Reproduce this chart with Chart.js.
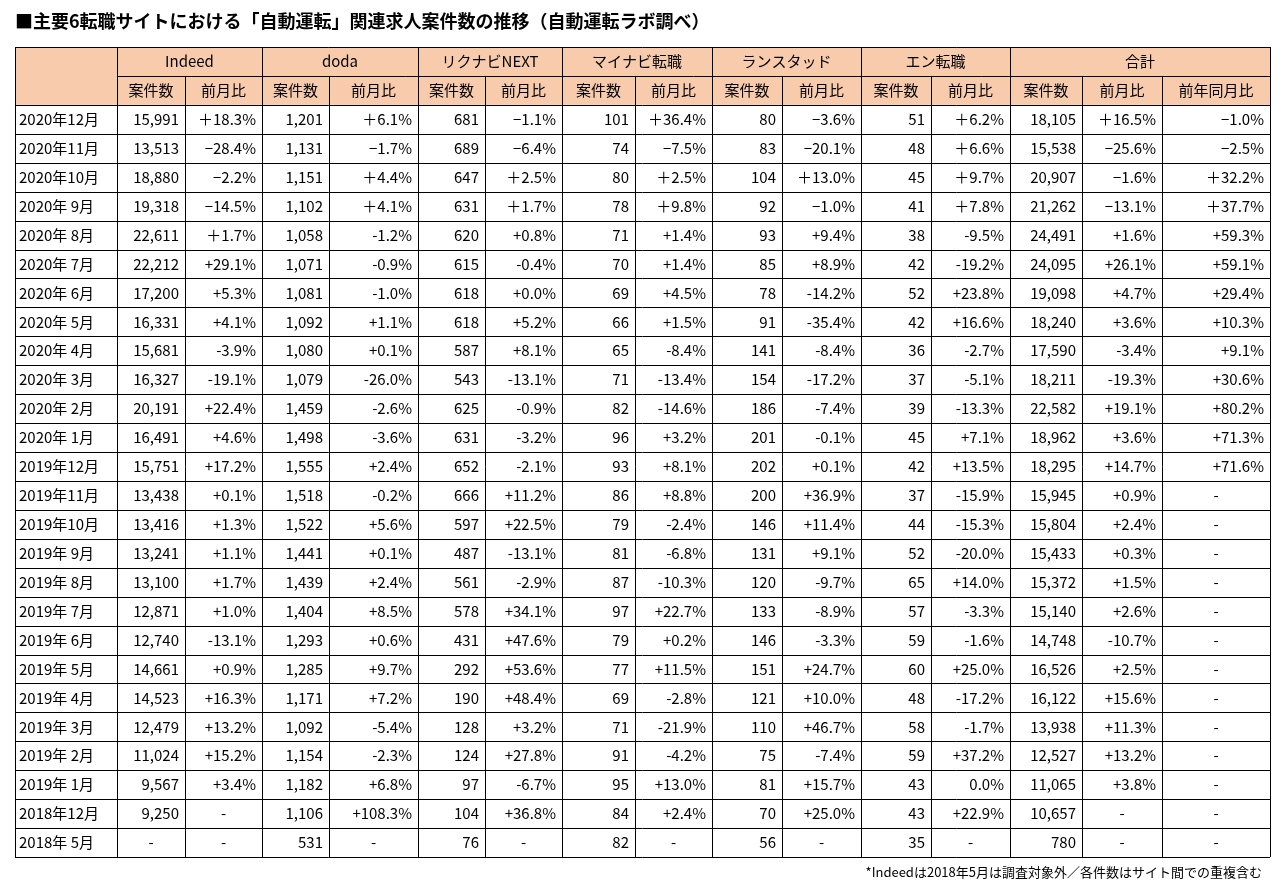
<!DOCTYPE html>
<html>
<head>
<meta charset="utf-8">
<script src="https://cdn.jsdelivr.net/npm/chart.js@4"></script>
<style>
  body { margin: 0; background: #fff; }
  #wrap { position: relative; width: 1280px; height: 888px; }
</style>
</head>
<body>
<div id="wrap"><canvas id="tableChart" width="1280" height="888"></canvas></div>
<script>
// データ
const title = '■主要6転職サイトにおける「自動運転」関連求人案件数の推移（自動運転ラボ調べ）';
const footnote = '*Indeedは2018年5月は調査対象外／各件数はサイト間での重複含む';
const sites = ['Indeed', 'doda', 'リクナビNEXT', 'マイナビ転職', 'ランスタッド', 'エン転職', '合計'];
const subHeaders = ['案件数', '前月比', '案件数', '前月比', '案件数', '前月比', '案件数', '前月比', '案件数', '前月比', '案件数', '前月比', '案件数', '前月比', '前年同月比'];

const months = ['2020年12月', '2020年11月', '2020年10月', '2020年 9月', '2020年 8月', '2020年 7月', '2020年 6月', '2020年 5月', '2020年 4月', '2020年 3月', '2020年 2月', '2020年 1月', '2019年12月', '2019年11月', '2019年10月', '2019年 9月', '2019年 8月', '2019年 7月', '2019年 6月', '2019年 5月', '2019年 4月', '2019年 3月', '2019年 2月', '2019年 1月', '2018年12月', '2018年 5月'];

const indeed = [15991, 13513, 18880, 19318, 22611, 22212, 17200, 16331, 15681, 16327, 20191, 16491, 15751, 13438, 13416, 13241, 13100, 12871, 12740, 14661, 14523, 12479, 11024, 9567, 9250, null];
const indeedMoM = ['＋18.3%', '−28.4%', '−2.2%', '−14.5%', '＋1.7%', '+29.1%', '+5.3%', '+4.1%', '-3.9%', '-19.1%', '+22.4%', '+4.6%', '+17.2%', '+0.1%', '+1.3%', '+1.1%', '+1.7%', '+1.0%', '-13.1%', '+0.9%', '+16.3%', '+13.2%', '+15.2%', '+3.4%', '-', '-'];
const doda = [1201, 1131, 1151, 1102, 1058, 1071, 1081, 1092, 1080, 1079, 1459, 1498, 1555, 1518, 1522, 1441, 1439, 1404, 1293, 1285, 1171, 1092, 1154, 1182, 1106, 531];
const dodaMoM = ['＋6.1%', '−1.7%', '＋4.4%', '＋4.1%', '-1.2%', '-0.9%', '-1.0%', '+1.1%', '+0.1%', '-26.0%', '-2.6%', '-3.6%', '+2.4%', '-0.2%', '+5.6%', '+0.1%', '+2.4%', '+8.5%', '+0.6%', '+9.7%', '+7.2%', '-5.4%', '-2.3%', '+6.8%', '+108.3%', '-'];
const rikunabi = [681, 689, 647, 631, 620, 615, 618, 618, 587, 543, 625, 631, 652, 666, 597, 487, 561, 578, 431, 292, 190, 128, 124, 97, 104, 76];
const rikunabiMoM = ['−1.1%', '−6.4%', '＋2.5%', '＋1.7%', '+0.8%', '-0.4%', '+0.0%', '+5.2%', '+8.1%', '-13.1%', '-0.9%', '-3.2%', '-2.1%', '+11.2%', '+22.5%', '-13.1%', '-2.9%', '+34.1%', '+47.6%', '+53.6%', '+48.4%', '+3.2%', '+27.8%', '-6.7%', '+36.8%', '-'];
const mynavi = [101, 74, 80, 78, 71, 70, 69, 66, 65, 71, 82, 96, 93, 86, 79, 81, 87, 97, 79, 77, 69, 71, 91, 95, 84, 82];
const mynaviMoM = ['＋36.4%', '−7.5%', '＋2.5%', '＋9.8%', '+1.4%', '+1.4%', '+4.5%', '+1.5%', '-8.4%', '-13.4%', '-14.6%', '+3.2%', '+8.1%', '+8.8%', '-2.4%', '-6.8%', '-10.3%', '+22.7%', '+0.2%', '+11.5%', '-2.8%', '-21.9%', '-4.2%', '+13.0%', '+2.4%', '-'];
const randstad = [80, 83, 104, 92, 93, 85, 78, 91, 141, 154, 186, 201, 202, 200, 146, 131, 120, 133, 146, 151, 121, 110, 75, 81, 70, 56];
const randstadMoM = ['−3.6%', '−20.1%', '＋13.0%', '−1.0%', '+9.4%', '+8.9%', '-14.2%', '-35.4%', '-8.4%', '-17.2%', '-7.4%', '-0.1%', '+0.1%', '+36.9%', '+11.4%', '+9.1%', '-9.7%', '-8.9%', '-3.3%', '+24.7%', '+10.0%', '+46.7%', '-7.4%', '+15.7%', '+25.0%', '-'];
const en = [51, 48, 45, 41, 38, 42, 52, 42, 36, 37, 39, 45, 42, 37, 44, 52, 65, 57, 59, 60, 48, 58, 59, 43, 43, 35];
const enMoM = ['＋6.2%', '＋6.6%', '＋9.7%', '＋7.8%', '-9.5%', '-19.2%', '+23.8%', '+16.6%', '-2.7%', '-5.1%', '-13.3%', '+7.1%', '+13.5%', '-15.9%', '-15.3%', '-20.0%', '+14.0%', '-3.3%', '-1.6%', '+25.0%', '-17.2%', '-1.7%', '+37.2%', '0.0%', '+22.9%', '-'];
const total = [18105, 15538, 20907, 21262, 24491, 24095, 19098, 18240, 17590, 18211, 22582, 18962, 18295, 15945, 15804, 15433, 15372, 15140, 14748, 16526, 16122, 13938, 12527, 11065, 10657, 780];
const totalMoM = ['＋16.5%', '−25.6%', '−1.6%', '−13.1%', '+1.6%', '+26.1%', '+4.7%', '+3.6%', '-3.4%', '-19.3%', '+19.1%', '+3.6%', '+14.7%', '+0.9%', '+2.4%', '+0.3%', '+1.5%', '+2.6%', '-10.7%', '+2.5%', '+15.6%', '+11.3%', '+13.2%', '+3.8%', '-', '-'];
const totalYoY = ['−1.0%', '−2.5%', '＋32.2%', '＋37.7%', '+59.3%', '+59.1%', '+29.4%', '+10.3%', '+9.1%', '+30.6%', '+80.2%', '+71.3%', '+71.6%', '-', '-', '-', '-', '-', '-', '-', '-', '-', '-', '-', '-', '-'];

// 表のレイアウト（列の境界）
const groupEdges = [15, 117, 262, 418, 562, 712, 861, 1010, 1270];
const colEdges = [117, 185, 262, 329, 418, 485, 562, 635, 712, 782, 861, 931, 1010, 1082, 1162, 1270];
const columns = [indeed, indeedMoM, doda, dodaMoM, rikunabi, rikunabiMoM, mynavi, mynaviMoM, randstad, randstadMoM, en, enMoM, total, totalMoM, totalYoY];
const FONT = '"Noto Sans CJK JP", "Noto Sans", sans-serif';

function fmt(v) {
    if (v === null || v === undefined) return '-';
    if (typeof v === 'number') return v.toLocaleString('en-US');
    return v;
}

const tablePlugin = {
    id: 'tableDraw',
    afterDraw(chart) {
        const ctx = chart.ctx;
        const xs = chart.scales.x;
        const ys = chart.scales.y;
        const X = v => xs.getPixelForValue(v);
        const Y = r => ys.getPixelForValue(r);
        ctx.save();

        // タイトル
        ctx.fillStyle = '#000';
        ctx.font = 'bold 18px ' + FONT;
        ctx.textBaseline = 'middle';
        ctx.textAlign = 'left';
        ctx.fillText(title, 15, 21);

        // ヘッダー背景
        ctx.fillStyle = '#f8cbad';
        ctx.fillRect(X(groupEdges[0]), Y(-2), X(groupEdges[groupEdges.length - 1]) - X(groupEdges[0]), Y(0) - Y(-2));

        // 罫線
        ctx.strokeStyle = '#000';
        ctx.lineWidth = 1;
        ctx.beginPath();
        for (let r = -2; r <= months.length; r++) {
            const x0 = r === -1 ? X(117) : X(15);
            const yy = Math.round(Y(r)) + 0.5;
            ctx.moveTo(x0, yy);
            ctx.lineTo(X(1270), yy);
        }
        groupEdges.forEach(e => {
            const xx = Math.round(X(e)) + 0.5;
            ctx.moveTo(xx, Y(-2));
            ctx.lineTo(xx, Y(months.length));
        });
        colEdges.forEach(e => {
            const xx = Math.round(X(e)) + 0.5;
            ctx.moveTo(xx, Y(-1));
            ctx.lineTo(xx, Y(months.length));
        });
        ctx.stroke();

        ctx.fillStyle = '#000';
        ctx.font = '15px ' + FONT;

        // ヘッダー文字
        ctx.textAlign = 'center';
        sites.forEach((s, i) => {
            ctx.fillText(s, (X(groupEdges[i + 1]) + X(groupEdges[i + 2])) / 2, (Y(-2) + Y(-1)) / 2);
        });
        subHeaders.forEach((s, i) => {
            ctx.fillText(s, (X(colEdges[i]) + X(colEdges[i + 1])) / 2, (Y(-1) + Y(0)) / 2);
        });

        // データ
        months.forEach((m, r) => {
            const cy = (Y(r) + Y(r + 1)) / 2;
            ctx.textAlign = 'left';
            ctx.fillText(m, X(15) + 4, cy);
            columns.forEach((col, c) => {
                const t = fmt(col[r]);
                if (t === '-') {
                    ctx.textAlign = 'center';
                    ctx.fillText(t, (X(colEdges[c]) + X(colEdges[c + 1])) / 2, cy);
                } else {
                    ctx.textAlign = 'right';
                    ctx.fillText(t, X(colEdges[c + 1]) - 6, cy);
                }
            });
        });

        // 注記
        ctx.font = '13px ' + FONT;
        ctx.textAlign = 'right';
        ctx.fillText(footnote, 1262, 872);
        ctx.restore();
    }
};

document.addEventListener('DOMContentLoaded', function() {
    const ctx = document.getElementById('tableChart').getContext('2d');
    new Chart(ctx, {
        type: 'scatter',
        data: { datasets: [] },
        options: {
            responsive: false,
            animation: false,
            layout: { padding: { left: 15, right: 10, top: 47, bottom: 31 } },
            plugins: { legend: { display: false }, tooltip: { enabled: false } },
            scales: {
                x: { type: 'linear', min: 15, max: 1270, display: false },
                y: { type: 'linear', min: -2, max: months.length, reverse: true, display: false }
            }
        },
        plugins: [tablePlugin]
    });
});
</script>
</body>
</html>
